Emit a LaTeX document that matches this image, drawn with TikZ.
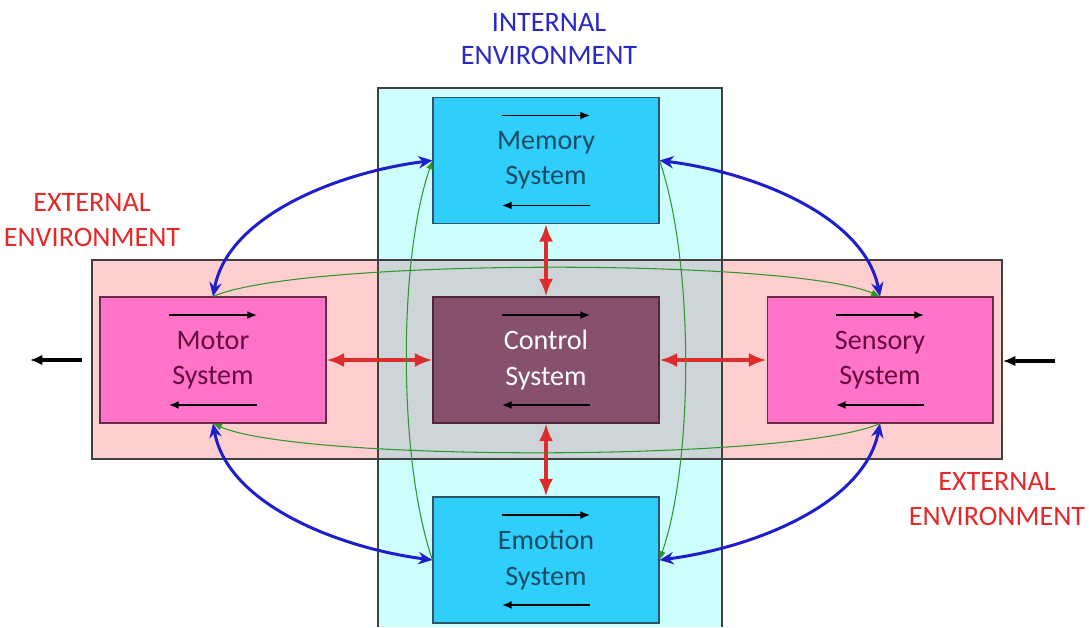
\documentclass[tikz,border=0pt]{standalone}
\usepackage{fontspec}
\setmainfont{Carlito}
\usetikzlibrary{arrows.meta}

\definecolor{extpink}{RGB}{255,206,206}
\definecolor{intcyan}{RGB}{206,255,255}
\definecolor{overlap}{RGB}{206,213,216}
\definecolor{memblue}{RGB}{48,206,250}
\definecolor{memedge}{RGB}{45,85,105}
\definecolor{memtext}{RGB}{25,75,100}
\definecolor{motpink}{RGB}{255,115,200}
\definecolor{motedge}{RGB}{105,45,75}
\definecolor{mottext}{RGB}{100,10,60}
\definecolor{ctrlfill}{RGB}{135,80,110}
\definecolor{ctrledge}{RGB}{80,40,60}
\definecolor{linkblue}{RGB}{30,30,205}
\definecolor{loopgreen}{RGB}{45,150,45}
\definecolor{pairred}{RGB}{220,45,45}
\definecolor{intlabel}{RGB}{40,40,200}
\definecolor{extlabel}{RGB}{230,40,40}

\begin{document}
\begin{tikzpicture}[x=0.02cm,y=-0.02cm,
  txt/.style={font=\fontsize{16}{20}\selectfont},
  sysbox/.style={txt, draw, line width=0.6pt, minimum width=4.52cm, minimum height=2.52cm, inner sep=0pt, align=center},
  innerbox/.style={sysbox, fill=memblue, draw=memedge, text=memtext},
  outerbox/.style={sysbox, fill=motpink, draw=motedge, text=mottext},
  flow/.style={line width=0.9pt, -{Latex[length=5.5pt,width=4.5pt]}},
  pair/.style={pairred, line width=2.2pt, {Latex[length=10pt,width=8pt]}-{Latex[length=10pt,width=8pt]}},
  link/.style={linkblue, line width=1.7pt, {Stealth[length=8pt,width=7pt]}-{Stealth[length=8pt,width=7pt]}},
  loop/.style={loopgreen, line width=0.6pt, -{Latex[length=5pt,width=4pt]}},
  io/.style={line width=1.8pt, -{Latex[length=7pt,width=6pt]}}]
\useasboundingbox (0,0) rectangle (1089,627);

% environments
\fill[extpink] (92,260) rectangle (1002,459);
\fill[intcyan] (378,88) rectangle (722,627);
\fill[overlap] (378,260) rectangle (722,459);
\draw[black!75, line width=0.6pt] (92,260) rectangle (1002,459);
\draw[black!75, line width=0.6pt] (378,627) -- (378,88) -- (722,88) -- (722,627);

\node[txt, text=intlabel, align=center] (intlab) at (549,39) {INTERNAL\\[-1pt]ENVIRONMENT};
\node[txt, text=extlabel, align=center] (extlabL) at (92,220) {EXTERNAL\\ENVIRONMENT};
\node[txt, text=extlabel, align=center] (extlabR) at (997,499) {EXTERNAL\\ENVIRONMENT};

% systems
\node[innerbox] (mem) at (546,160.5) {Memory\\System};
\node[innerbox] (emo) at (546,560) {Emotion\\System};
\node[outerbox] (motor) at (213,360) {Motor\\System};
\node[outerbox] (sens) at (880,360) {Sensory\\System};
\node[sysbox, fill=ctrlfill, draw=ctrledge, text=white] (ctrl) at (546,360) {Control\\System};

\foreach \b in {mem,emo,motor,sens,ctrl} {
  \draw[flow] ([shift={(-0.88cm,0.9cm)}]\b.center) -- ++(1.76cm,0);
  \draw[flow] ([shift={(0.88cm,-0.9cm)}]\b.center) -- ++(-1.76cm,0);
}

% control exchanges
\draw[pair] (mem.south) -- (ctrl.north);
\draw[pair] (ctrl.south) -- (emo.north);
\draw[pair] (motor.east) -- (ctrl.west);
\draw[pair] (ctrl.east) -- (sens.west);

% green loop
\draw[loop] (motor.north) .. controls (300,258) and (792,258) .. (sens.north);
\draw[loop] (sens.south) .. controls (792,462) and (300,462) .. (motor.south);
\draw[loop] (emo.west) .. controls (398,460) and (398,260) .. (mem.west);
\draw[loop] (mem.east) .. controls (694,260) and (694,460) .. (emo.east);

% blue links
\draw[link] (motor.north) .. controls (228,215) and (340,172) .. (mem.west);
\draw[link] (sens.north) .. controls (864,215) and (752,172) .. (mem.east);
\draw[link] (motor.south) .. controls (228,505) and (340,548) .. (emo.west);
\draw[link] (sens.south) .. controls (864,505) and (752,548) .. (emo.east);

% in and out
\coordinate (outA) at (82,360);
\coordinate (outB) at (30,360);
\coordinate (inA) at (1055,361);
\coordinate (inB) at (1003,361);
\draw[io] (outA) -- (outB);
\draw[io] (inA) -- (inB);
\end{tikzpicture}
\end{document}
